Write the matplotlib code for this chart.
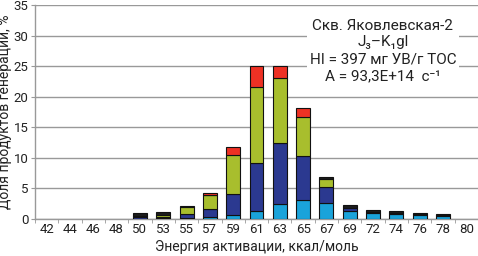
import numpy as np
import matplotlib
matplotlib.use("Agg")
import matplotlib.pyplot as plt

plt.rcParams['font.family'] = ['Roboto', 'DejaVu Sans']

# энергии активации (категории)
energii = ['42', '44', '46', '48', '50', '53', '55', '57', '59', '61',
           '63', '65', '67', '69', '72', '74', '76', '78', '80']

# доли по сериям, снизу вверх
goluboy = [0, 0, 0, 0, 0.0, 0.05, 0.05, 0.2, 0.66, 1.3,
           2.4, 3.0, 2.6, 1.3, 1.0, 0.85, 0.65, 0.5, 0]
siniy = [0, 0, 0, 0, 0.3, 0.2, 0.7, 1.35, 3.4, 7.8,
         10.0, 7.3, 2.6, 0.4, 0.1, 0.1, 0.05, 0.05, 0]
zeleniy = [0, 0, 0, 0, 0.15, 0.3, 1.1, 2.3, 6.45, 12.5,
           10.6, 6.3, 1.25, 0, 0, 0, 0, 0, 0]
cherniy = [0, 0, 0, 0, 0.5, 0.5, 0.2, 0.1, 0, 0,
           0, 0, 0.35, 0.5, 0.3, 0.3, 0.2, 0.17, 0]
krasniy = [0, 0, 0, 0, 0, 0, 0, 0.3, 1.3, 3.4,
           2.0, 1.5, 0, 0, 0, 0, 0, 0, 0]

serii = [goluboy, siniy, zeleniy, cherniy, krasniy]
tsveta = ['#1AA3DA', '#2B3990', '#A8BE2D', '#1C1C1C', '#EE3124']

fig = plt.figure(figsize=(4.78, 2.56), dpi=100)
ax = fig.add_axes([35 / 478, 1 - 218.7 / 256, 443 / 478, (218.7 - 5) / 256])

x = np.arange(len(energii))
niz = np.zeros(len(energii))
for znach, cvet in zip(serii, tsveta):
    znach = np.array(znach, dtype=float)
    est = znach > 0  # пустые сегменты не рисуем
    ax.bar(x[est], znach[est], width=0.6, bottom=niz[est], color=cvet,
           edgecolor='#111111', linewidth=0.8, zorder=3)
    niz += znach

ax.set_xlim(-0.5, len(energii) - 0.5)
ax.set_ylim(0, 35)
ax.set_yticks(np.arange(0, 36, 5))
ax.set_xticks(x)
ax.set_xticklabels(energii)
ax.set_xticks(np.arange(-0.5, len(energii), 1), minor=True)
ax.tick_params(axis='x', which='major', length=0, labelsize=9.5, pad=3, colors='#222222')
ax.tick_params(axis='x', which='minor', length=3, color='#999999')
ax.tick_params(axis='y', length=3, color='#999999', labelsize=9.5, pad=1.5, labelcolor='#222222')

ax.grid(axis='y', color='#999999', linewidth=1.0, zorder=0)
ax.set_axisbelow(True)
for s in ['top', 'right']:
    ax.spines[s].set_visible(False)
for s in ['left', 'bottom']:
    ax.spines[s].set_color('#999999')
    ax.spines[s].set_linewidth(1.0)

ax.set_xlabel('Энергия активации, ккал/моль', fontsize=10, labelpad=3, color='#222222')
ax.set_ylabel('Доля продуктов генерации, %', fontsize=10, labelpad=1, color='#222222')

podpis = 'Скв. Яковлевская-2\nJ₃–K₁gl\nHI = 397 мг УВ/г ТОС\nA = 93,3E+14  c⁻¹'
ax.text((383 - 35) / 443, 0.936, podpis, transform=ax.transAxes,
        ha='center', va='top', fontsize=11, linespacing=1.25, color='#222222',
        bbox=dict(facecolor='white', edgecolor='none', pad=2), zorder=5)

fig.savefig('out.png', dpi=100)
